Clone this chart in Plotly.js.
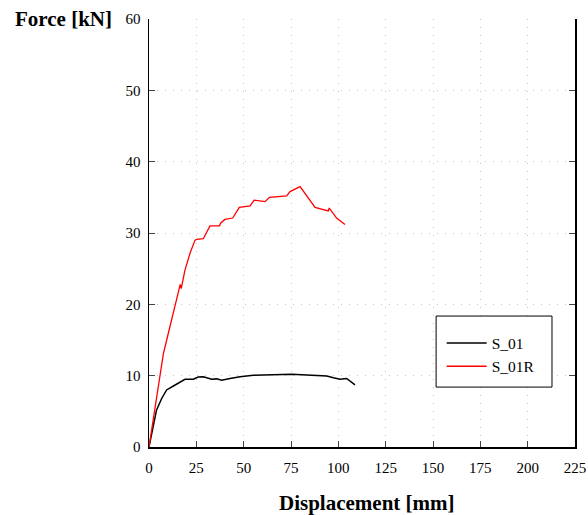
<!DOCTYPE html>
<html>
<head>
<meta charset="utf-8">
<script src="https://cdn.plot.ly/plotly-3.0.1.min.js"></script>
<style>html,body{margin:0;padding:0;background:#fff;}#chart{width:588px;height:515px;}</style>
</head>
<body>
<div id="chart"></div>
<script>
// Series S_01 (black)
const s01_disp  = [0, 2.3, 4.0, 6.7, 9.3, 12.9, 16.4, 19.0, 23.4, 26.0, 28.7, 33.1, 35.8, 38.4, 42.8, 48.1, 55.1, 65.7, 75.4, 83.3, 93.9, 97.4, 100.9, 104.4, 108.8];
const s01_force = [0, 3.3, 5.2, 6.8, 8.0, 8.55, 9.15, 9.5, 9.5, 9.8, 9.85, 9.5, 9.55, 9.35, 9.6, 9.86, 10.05, 10.1, 10.2, 10.1, 9.95, 9.7, 9.5, 9.6, 8.7];
// Series S_01R (red)
const s01r_disp  = [0, 4.0, 7.6, 9.35, 12.0, 16.0, 16.5, 17.0, 19.0, 21.7, 24.3, 25.2, 28.7, 32.2, 37.2, 37.9, 40.1, 44.2, 47.7, 53.4, 55.5, 61.3, 63.6, 72.7, 74.5, 79.8, 87.7, 94.7, 95.2, 99.1, 103.5];
const s01r_force = [0, 6.6, 13.1, 15.0, 17.8, 22.0, 22.8, 22.2, 24.8, 27.2, 29.0, 29.1, 29.2, 31.0, 31.0, 31.4, 31.9, 32.1, 33.6, 33.8, 34.6, 34.4, 35.0, 35.2, 35.8, 36.5, 33.6, 33.1, 33.5, 32.1, 31.2];
const xTicks = [0, 25, 50, 75, 100, 125, 150, 175, 200, 225];
const yTicks = [0, 10, 20, 30, 40, 50, 60];
const seriesNames = ["S_01", "S_01R"];

const font = "Liberation Serif, Times New Roman, serif";
const traces = [
  {x: s01_disp, y: s01_force, name: seriesNames[0], mode: "lines", line: {color: "#000000", width: 1.5}},
  {x: s01r_disp, y: s01r_force, name: seriesNames[1], mode: "lines", line: {color: "#ff0000", width: 1.3}}
];
const layout = {
  width: 588, height: 515,
  margin: {l: 149, r: 13, t: 19, b: 68},
  paper_bgcolor: "#fff", plot_bgcolor: "#fff",
  font: {family: font, size: 15, color: "#000"},
  showlegend: true,
  legend: {x: 0.687, y: 0.2815, xanchor: "left", yanchor: "top", borderwidth: 0,
           bgcolor: "rgba(0,0,0,0)", font: {family: font, size: 15.5}, itemwidth: 40},
  shapes: [
    {type: "rect", xref: "paper", yref: "paper", x0: 0.674, x1: 0.946, y0: 0.14, y1: 0.306,
     line: {color: "#000", width: 1}, fillcolor: "#fff", layer: "above"}
  ],
  xaxis: {range: [0, 225], tickvals: xTicks, ticktext: xTicks.map(String), ticks: "inside", ticklen: 6,
          showline: true, linecolor: "#000", linewidth: 1.5, mirror: false, zeroline: false,
          showgrid: true, gridcolor: "#c8c8c8", griddash: "1px,7px", gridwidth: 1,
          tickfont: {family: font, size: 15}, ticklabelstandoff: 6},
  yaxis: {range: [0, 60], tickvals: yTicks, ticktext: yTicks.map(String), ticks: "inside", ticklen: 6,
          showline: true, linecolor: "#000", linewidth: 1.5, mirror: "ticks", zeroline: false,
          showgrid: true, gridcolor: "#c8c8c8", griddash: "1px,7px", gridwidth: 1,
          tickfont: {family: font, size: 15}, ticklabelstandoff: 4},
  annotations: [
    {text: "<b>Force [kN]</b>", xref: "paper", yref: "paper", x: -0.319, y: 1.0, xanchor: "left", yanchor: "middle",
     showarrow: false, font: {family: font, size: 21}},
    {text: "<b>Displacement [mm]</b>", xref: "paper", yref: "paper", x: 0.511, y: -0.131, xanchor: "center", yanchor: "middle",
     showarrow: false, font: {family: font, size: 21}}
  ]
};
Plotly.newPlot("chart", traces, layout, {displayModeBar: false, staticPlot: true});
</script>
</body>
</html>
